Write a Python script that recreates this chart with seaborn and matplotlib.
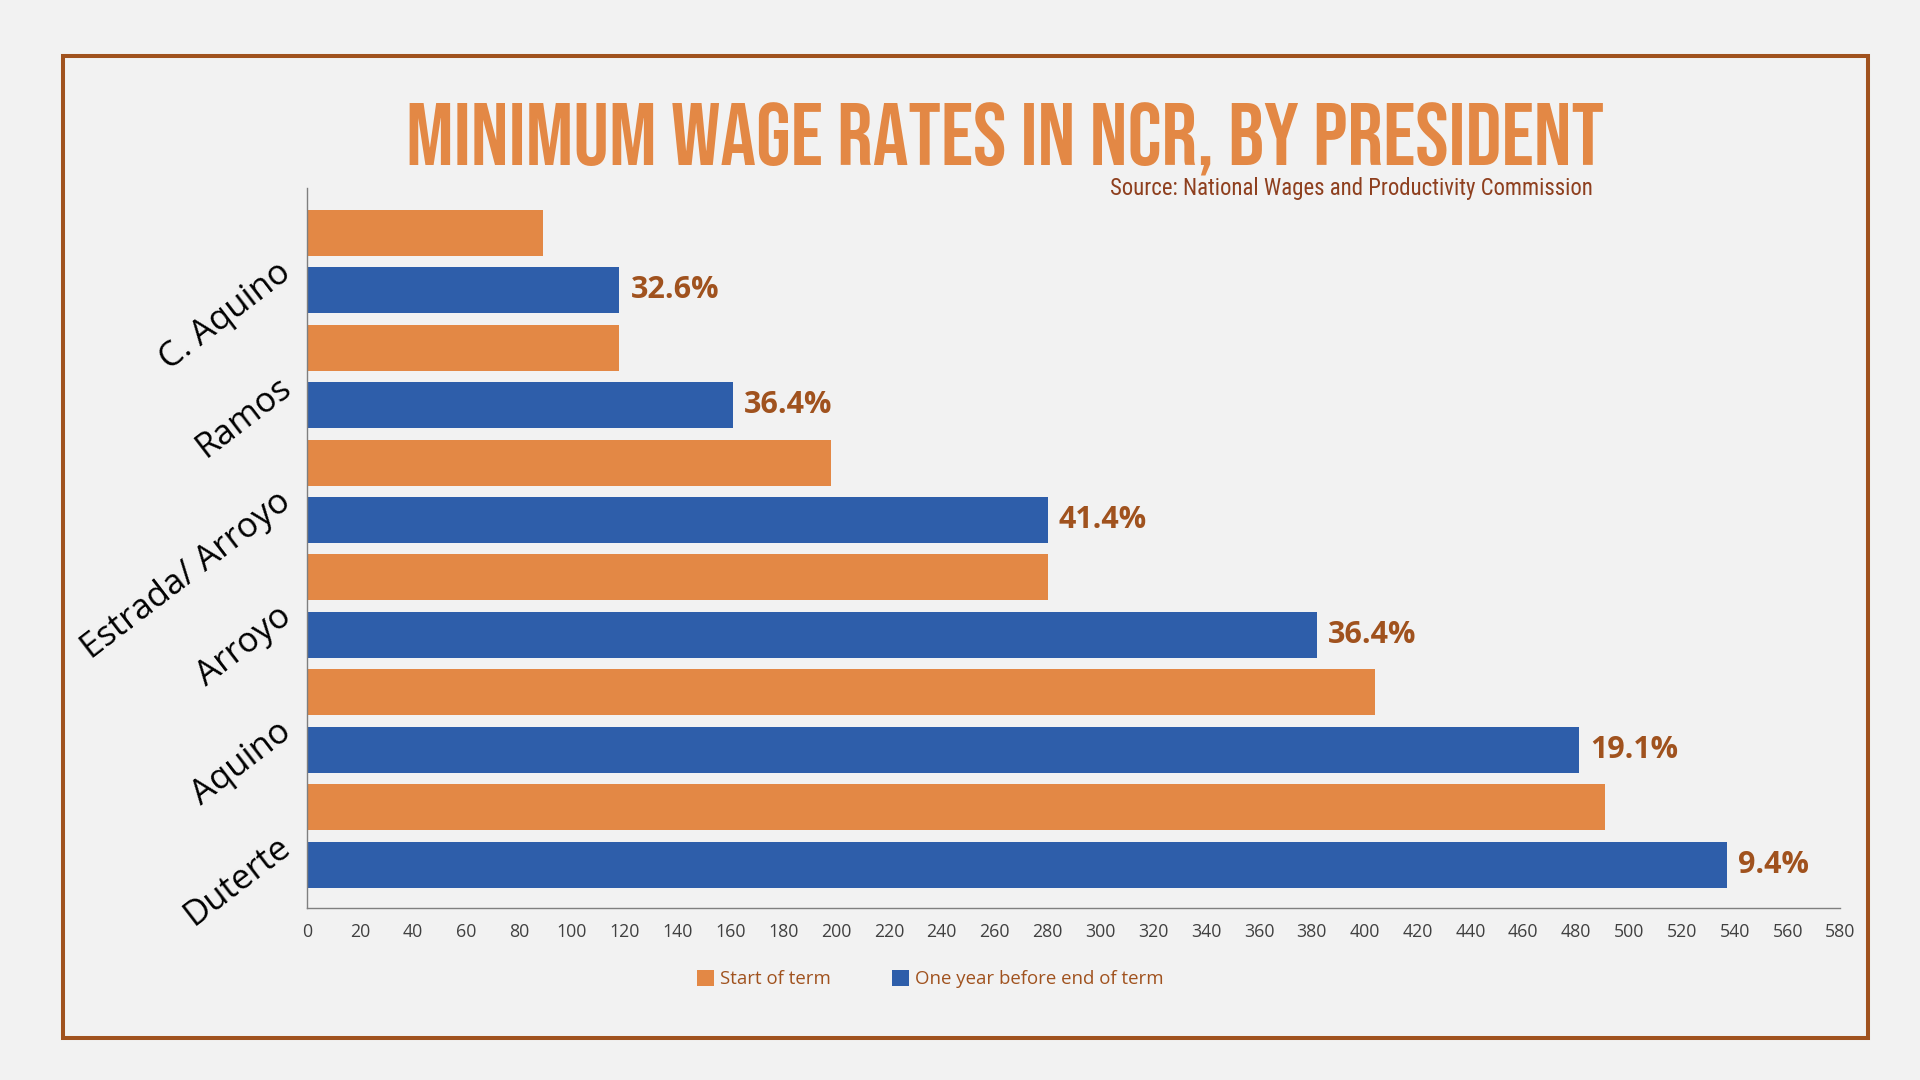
import os
import matplotlib
matplotlib.use("Agg")
import matplotlib.pyplot as plt
import matplotlib.transforms as mtransforms
from matplotlib import font_manager as fm
from matplotlib.patches import Rectangle
import seaborn as sns
import pandas as pd

# ---------------- data ----------------
presidents = ["C. Aquino", "Ramos", "Estrada/ Arroyo", "Arroyo", "Aquino", "Duterte"]
start_of_term = [89, 118, 198, 280, 404, 491]
year_before_end = [118, 161, 280, 382, 481, 537]
pct_labels = ["32.6%", "36.4%", "41.4%", "36.4%", "19.1%", "9.4%"]
series_names = ["Start of term", "One year before end of term"]
x_ticks = list(range(0, 600, 20))
title_text = "MINIMUM WAGE RATES IN NCR, BY PRESIDENT"
source_text = "Source: National Wages and Productivity Commission"

# ---------------- style ----------------
ORANGE = "#E38845"
BLUE = "#2E5EAA"
BROWN = "#A0521E"
SRC_BROWN = "#8E3F1E"
BG = "#F2F2F2"

sns.set_theme(style="white")
plt.rcParams["font.family"] = ["Open Sans", "DejaVu Sans"]


def find_font(keys, exclude=("Italic", "Oblique")):
    files = [f.fname for f in fm.fontManager.ttflist]
    for key in keys:
        for fn in files:
            base = os.path.basename(fn)
            if key.lower() in base.lower() and not any(e.lower() in base.lower() for e in exclude):
                return fm.FontProperties(fname=fn)
    return None


title_fp = find_font(["BebasNeue", "Oswald-Bold", "Anton-Regular", "LeagueGothic",
                      "NotoSans-ExtraCondensedBold", "NotoSans-CondensedBold",
                      "RobotoCondensed-Bold", "LiberationSansNarrow-Bold",
                      "DejaVuSansCondensed-Bold"])
if title_fp is None:
    title_fp = fm.FontProperties(family="Roboto", weight="bold")

src_fp = find_font(["NotoSans-CondensedMedium", "NotoSans-ExtraCondensedMedium",
                    "RobotoCondensed-Regular", "LiberationSansNarrow-Regular",
                    "DejaVuSansCondensed.ttf"])
if src_fp is None:
    src_fp = fm.FontProperties(family="Roboto", weight="medium")

# ---------------- table for seaborn ----------------
bar_ids, wages, series = [], [], []
for p, s, e in zip(presidents, start_of_term, year_before_end):
    bar_ids += [p + " | start", p + " | end"]
    wages += [s, e]
    series += series_names
df = pd.DataFrame({"bar": bar_ids, "wage": wages, "series": series})

W, H = 1920, 1080
fig = plt.figure(figsize=(19.2, 10.8), dpi=100, facecolor=BG)
ax = fig.add_axes([307.4 / W, 1 - 908.3 / H, (1840.5 - 307.4) / W, (908.3 - 188.0) / H])
ax.set_facecolor(BG)

sns.barplot(data=df, y="bar", x="wage", hue="series", order=bar_ids,
            hue_order=series_names, palette={series_names[0]: ORANGE, series_names[1]: BLUE},
            dodge=False, width=0.8, orient="h", saturation=1, errorbar=None,
            linewidth=0, ax=ax)

ax.set_xlim(0, 580)
ax.set_ylim(len(bar_ids) - 0.24, -0.78)
ax.set_xticks(x_ticks)
ax.set_xticklabels([str(t) for t in x_ticks])
ax.set_yticks([])
ax.set_xlabel("")
ax.set_ylabel("")
ax.tick_params(axis="x", length=0, pad=10.5, labelsize=12.8, labelcolor="#404040")
for side in ("top", "right"):
    ax.spines[side].set_visible(False)
for side in ("left", "bottom"):
    ax.spines[side].set_color("#7F7F7F")
    ax.spines[side].set_linewidth(1.0)

# category labels (rotated, anchored at their right end)
lab_trans = mtransforms.offset_copy(
    mtransforms.blended_transform_factory(ax.transAxes, ax.transData),
    fig=fig, x=-20, y=-7, units="dots")
for i, p in enumerate(presidents):
    ax.text(0, 2 * i + 0.5, p, transform=lab_trans, rotation=37.5,
            rotation_mode="anchor", ha="right", va="center",
            fontsize=25, color="black", clip_on=False)

# percentage labels on the "one year before end" bars
ax.bar_label(ax.containers[1], labels=pct_labels, padding=8,
             fontsize=22, fontweight="bold", color=BROWN)

# legend
handles, labels = ax.get_legend_handles_labels()
if ax.get_legend() is not None:
    ax.get_legend().remove()
leg = fig.legend(handles, labels, loc="center", bbox_to_anchor=(930.5 / W, 1 - 979 / H),
                 ncol=2, frameon=False, fontsize=13.4, handlelength=0.9,
                 handleheight=0.95, handletextpad=0.32, columnspacing=3.3)
for t in leg.get_texts():
    t.set_color(BROWN)

# title and source
title = fig.text(405.6 / W, 1 - 165 / H, title_text, ha="left", va="baseline",
                 color=ORANGE, fontproperties=title_fp, fontsize=60)
source = fig.text(1593 / W, 1 - 195 / H, source_text, ha="right", va="baseline",
                  color=SRC_BROWN, fontproperties=src_fp, fontsize=16)


def fit_width(t, target_px):
    fig.canvas.draw()
    r = fig.canvas.get_renderer()
    w = t.get_window_extent(r).width
    t.set_fontsize(t.get_fontsize() * target_px / w)


fit_width(title, 1198)
fit_width(source, 483)

# frame
fig.patches.append(Rectangle((63 / W, 1 - 1038 / H), (1868 - 63) / W, (1038 - 55.5) / H,
                             transform=fig.transFigure, fill=False, edgecolor=BROWN,
                             linewidth=2.9, zorder=0))

fig.savefig("out.png", dpi=100, facecolor=BG)
